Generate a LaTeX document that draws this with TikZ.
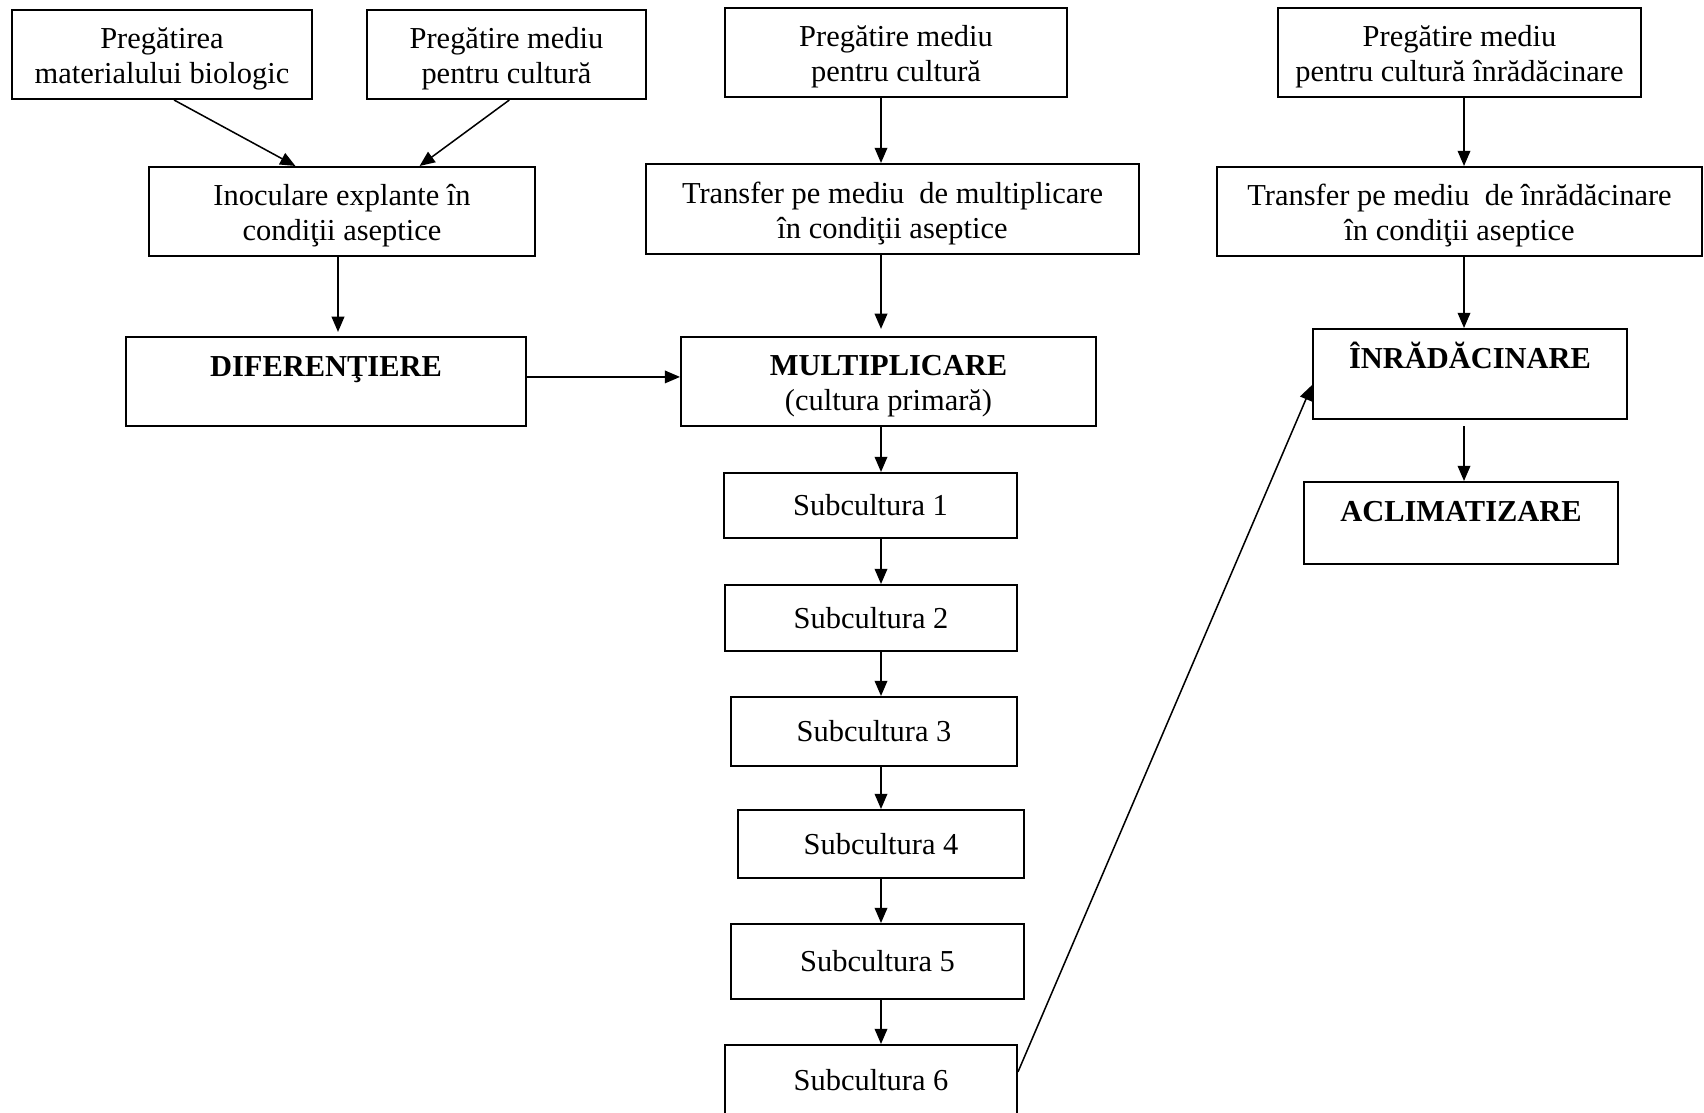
\documentclass[tikz,border=0pt]{standalone}
\usepackage{fontspec}
\setmainfont{Liberation Serif}
\usetikzlibrary{calc,arrows.meta}
% two lines of text, a little lower in the box
\newcommand{\twolines}[2]{\rule{0pt}{13.3pt}#1\\#2\strut}

\begin{document}
\begin{tikzpicture}[x=0.394pt,y=-0.394pt,font=\fontsize{12}{13.8}\selectfont]
% Two styles: boxes and arrows
\tikzstyle{box}=[draw,line width=0.8pt,align=center,inner xsep=2pt,inner ysep=1pt];
\tikzstyle{arr}=[line width=0.6pt,-{Triangle[length=6pt,width=5pt]}];
\tikzset{dims/.style 2 args={minimum width=#1*0.394pt,minimum height=#2*0.394pt}}
\useasboundingbox (0,0) rectangle (1704,1112);
% Columns for the vertical arrows
\coordinate (colL) at (338,0);
\coordinate (colM) at (881,0);
\coordinate (colR) at (1464,0);
% Top row
\node(prepA)[box,dims={300}{89}] at (162,54.5) {\twolines{Pregătirea}{materialului biologic}};
\node(prepB)[box,dims={279}{89}] at (506.5,54.5) {\twolines{Pregătire mediu}{pentru cultură}};
\node(prepM)[box,dims={342}{89}] at (896,52.5) {\twolines{Pregătire mediu}{pentru cultură}};
\node(prepR)[box,dims={363}{89}] at (1459.5,52.5) {\twolines{Pregătire mediu}{pentru cultură înrădăcinare}};
% Second row
\node(inoc)[box,dims={386}{89}] at (342,211.5) {\twolines{Inoculare explante în}{condiţii aseptice}};
\node(transM)[box,dims={493}{90}] at (892.5,209) {\twolines{Transfer pe mediu~ de multiplicare}{în condiţii aseptice}};
\node(transR)[box,dims={485}{89}] at (1459.5,211.5) {\twolines{Transfer pe mediu~ de înrădăcinare}{în condiţii aseptice}};
% Stages
\node(dif)[box,dims={400}{89}] at (326,381.5) {\textbf{DIFERENŢIERE}\\[-1.8pt]\mbox{}};
\node(mult)[box,dims={415}{89}] at (888.5,381.5) {\twolines{\textbf{MULTIPLICARE}}{(cultura primară)}};
\node(inrad)[box,dims={314}{90}] at (1470,374) {\textbf{ÎNRĂDĂCINARE}\\[0.8pt]\mbox{}};
\node(aclim)[box,dims={314}{82}] at (1461,523) {\textbf{ACLIMATIZARE}\\[-4.6pt]\mbox{}};
% Subcultures
\foreach \i/\x/\y/\w/\h in {1/870.5/505.5/293/65,2/871/618/292/66,3/874/731.5/286/69,
  4/881/844/286/68,5/877.5/961.5/293/75,6/871/1080/292/70}
  \node(sub\i)[box,dims={\w}{\h}] at (\x,\y) {Subcultura \i};
% Arrows
\draw[arr]($(prepA.south west)!0.54!(prepA.south east)$)--($(inoc.north west)!0.38!(inoc.north east)$);
\draw[arr]($(prepB.south west)!0.51!(prepB.south east)$)--($(inoc.north west)!0.70!(inoc.north east)$);
\draw[arr,shorten >=1.6pt](inoc.south -| colL)--(dif.north -| colL);
\draw[arr](prepM.south -| colM)--(transM.north -| colM);
\draw[arr,shorten >=2.8pt](transM.south -| colM)--(mult.north -| colM);
\draw[arr](mult.south -| colM)--(sub1.north -| colM);
\foreach \i [count=\j from 2] in {1,...,5}
  \draw[arr](sub\i.south -| colM)--(sub\j.north -| colM);
\draw[arr](prepR.south -| colR)--(transR.north -| colR);
\draw[arr](transR.south -| colR)--(inrad.north -| colR);
\draw[arr,shorten <=2.4pt](inrad.south -| colR)--(aclim.north -| colR);
\draw[arr]([yshift=1.8pt]dif.east)--([yshift=1.8pt]mult.west);
\draw[arr]($(sub6.north east)!0.386!(sub6.south east)$)--($(inrad.north west)!0.62!(inrad.south west)$);
\end{tikzpicture}
\end{document}
